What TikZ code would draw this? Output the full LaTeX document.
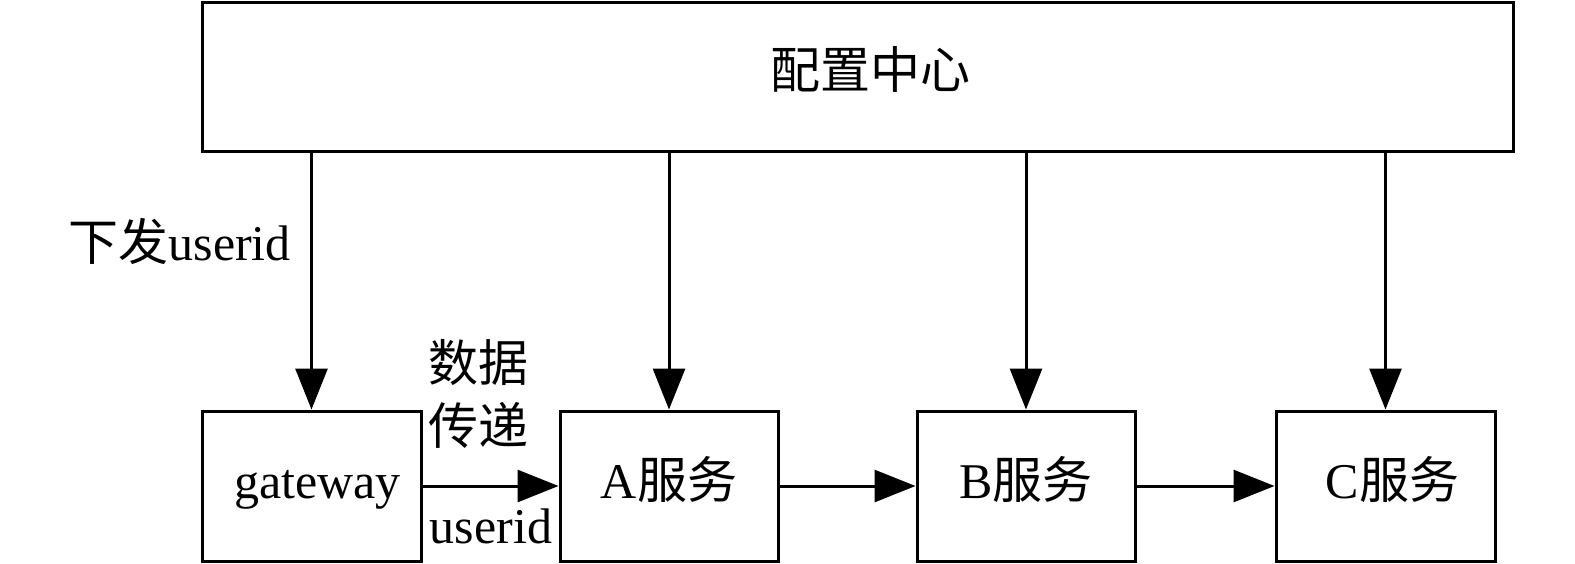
\documentclass[tikz,border=0pt]{standalone}
\usepackage{fontspec}
\setmainfont{Liberation Serif}
\newfontfamily\zh{Noto Sans CJK SC}
\usetikzlibrary{positioning, arrows.meta}

\begin{document}
\begin{tikzpicture}[x=1pt, y=-1pt, font=\fontsize{50}{60}\selectfont,
    box/.style={draw, line width=3pt, inner sep=0pt, minimum height=150pt,
      text height=36pt, text depth=12pt},
    arr/.style={line width=3pt, -{Triangle[length=41pt, width=32pt]}}]
  \useasboundingbox (0,0) rectangle (1575,563);
  \node[box, minimum width=1311pt, minimum height=149pt] (cfg) at (857.5,76.5) {\hspace*{26pt}\zh 配置中心};
  \node[box, minimum width=219pt] (gw) at (311.5,486) {\hspace*{12pt}gateway};
  \node[box, minimum width=218pt] (a) at (669,486) {A{\zh 服务}};
  \node[box, minimum width=218pt] (b) at (1026,486) {B{\zh 服务}};
  \node[box, minimum width=219pt] (c) at (1385.5,486) {\hspace*{14pt}C{\zh 服务}};
  % config pushes down to every service
  \foreach \s in {gw, a, b, c}
    \draw[arr] (cfg.south -| \s.north) -- (\s.north);
  \draw[arr] (gw) -- (a);
  \draw[arr] (a) -- (b);
  \draw[arr] (b) -- (c);
  \node[anchor=east, inner sep=0pt] (issue) at (291,241) {{\zh 下发}userid};
  \node[align=center, font=\fontsize{50}{63}\selectfont\zh] (pass) at (478,394) {数据\\传递};
  \node (uid) at (491,526) {userid};
\end{tikzpicture}
\end{document}
